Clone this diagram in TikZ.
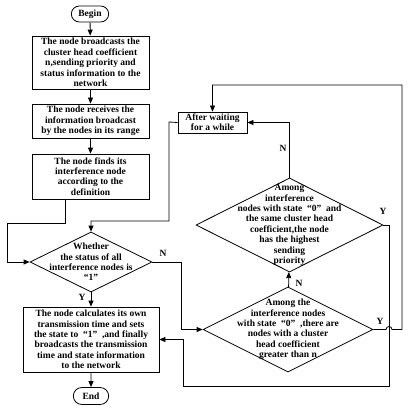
\documentclass[tikz,border=0pt]{standalone}
\usepackage{fontspec}
\setmainfont{Liberation Serif}
\usetikzlibrary{shapes.geometric,shapes.misc,arrows.meta}

\begin{document}
\begin{tikzpicture}[x=1pt, y=-1pt, line width=0.8pt,
    font=\fontsize{9.5}{10.4}\selectfont\bfseries,
    box/.style={draw, rectangle, align=center, inner sep=1pt},
    term/.style={draw, rounded rectangle, minimum height=16pt},
    decide/.style={draw, diamond, align=center, inner sep=-60pt},
    flow/.style={-{Triangle[length=6pt,width=5pt]}}]
    \useasboundingbox (0,0) rectangle (410,414);

    % start
    \node[term, minimum width=44pt] (begin) at (90,14) {Begin};

    % left column
    \node[box, minimum width=117pt, minimum height=53pt] (bcast) at (90.5,62.5)
        {The node broadcasts the\\cluster head coefficient\\n,sending priority and\\status information to the\\network};
    \node[box, minimum width=117pt, minimum height=34pt] (recv) at (90.5,121)
        {The node receives the\\information broadcast\\by the nodes in its range};
    \node[box, minimum width=117pt, minimum height=45pt] (find) at (90.5,176.5)
        {The node finds its\\interference node\\according to the\\definition};
    \node[decide, minimum width=122pt, minimum height=60pt] (allone) at (91,262)
        {Whether\\the status of all\\interference nodes is\\“1”};
    \node[box, minimum width=136pt, minimum height=65pt] (calc) at (91,339.5)
        {The node calculates its own\\transmission time and sets\\the state to ~“1”~ ,and finally\\broadcasts the transmission\\time and state information\\to the network};
    \node[term, minimum width=42pt, minimum height=17pt] (end) at (91,396) {End};

    % right column
    \node[box, minimum width=69pt, minimum height=21pt] (wait) at (212.5,122.5)
        {After waiting\\for a while};
    \node[decide, minimum width=187pt, minimum height=94pt] (highest) at (289.5,225)
        {Among\\interference\\nodes with state ~“0”~ and\\the same cluster head\\coefficient,the node\\has the highest\\sending\\priority};
    \node[decide, minimum width=170pt, minimum height=85pt] (greater) at (288,329.5)
        {Among the\\interference nodes\\with state ~“0”~ ,there are\\nodes with a cluster\\head coefficient\\greater than n};

    % helper points
    \coordinate (c1) at (65,223);
    \coordinate (c2) at (7,223);
    \coordinate (c3) at (7,262);
    \coordinate (c4) at (169,122);
    \coordinate (c5) at (169,221);
    \coordinate (c6) at (91,221);
    \coordinate (c7) at (181,262);
    \coordinate (c8) at (181,329.5);
    \coordinate (c9) at (389,225);
    \coordinate (c10) at (389,386);
    \coordinate (c11) at (183,386);
    \coordinate (c12) at (183,339.5);
    \coordinate (c13) at (402,329.5);
    \coordinate (c14) at (402,85);
    \coordinate (c15) at (212.5,85);
    \coordinate (c16) at (289.5,122.5);

    % arrows
    \draw[flow] (begin) -- (bcast);
    \draw[flow] (bcast) -- (recv);
    \draw[flow] (recv) -- (find);
    \draw[flow] (find.south -| c1) -- (c1) -- (c2) -- (c3) -- (allone.west);
    \draw[flow] (wait.west) -- (c4) -- (c5) -- (c6) -- (allone.north);
    \draw[flow] (allone.east) -- (c7) -- (c8) -- (greater.west);
    \draw[flow] (allone) -- (calc);
    \draw[flow] (calc) -- (end);
    \draw[flow] (greater) -- (highest);
    \draw[flow] (highest.north) -- (c16) -- (wait.east);
    \draw[flow] (highest.east) -- (c9) -- (c10) -- (c11) -- (c12) -- (calc.east);
    \draw[flow] (greater.east) -- (386,329.5) arc (180:360:3) -- (c13) -- (c14) -- (c15) -- (wait.north);

    % labels
    \node (n1) at (163,253) {N};
    \node (y1) at (82,297) {Y};
    \node (n2) at (283,148) {N};
    \node (y2) at (383,211) {Y};
    \node (n3) at (299,283) {N};
    \node (y3) at (380,321) {Y};
\end{tikzpicture}
\end{document}
